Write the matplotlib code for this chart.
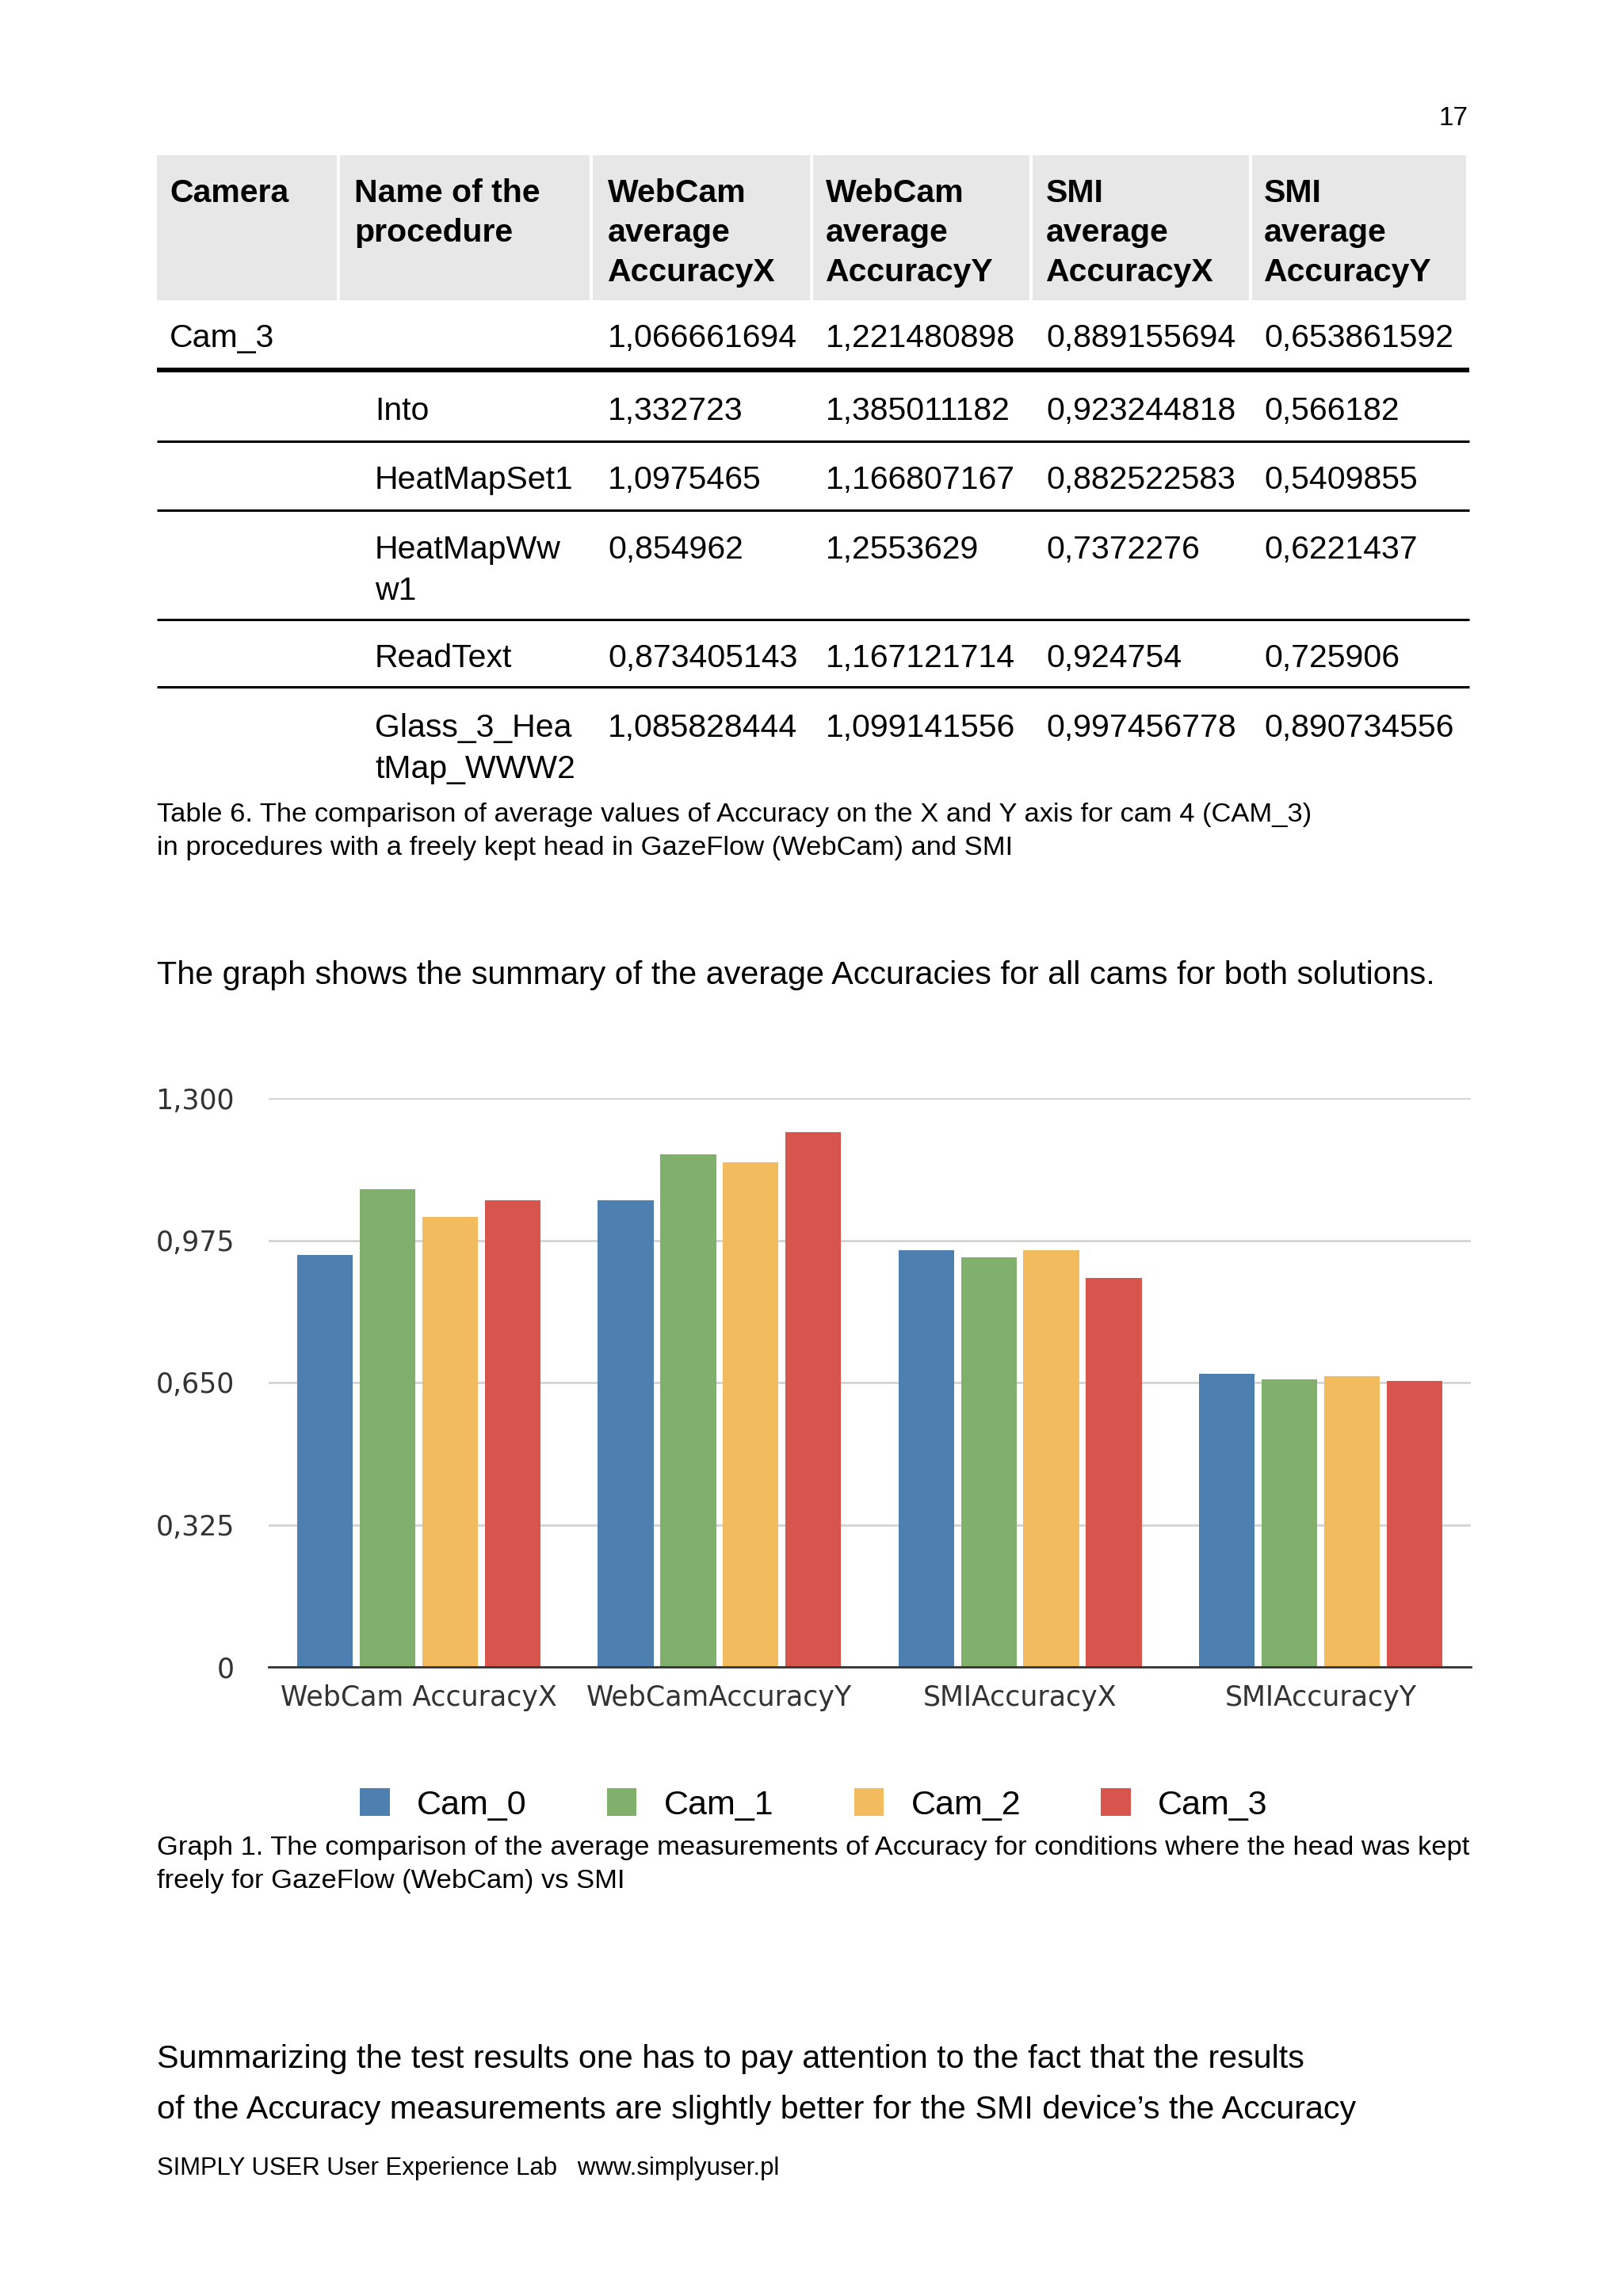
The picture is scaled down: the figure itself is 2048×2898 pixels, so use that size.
import numpy as np
import matplotlib
matplotlib.use("Agg")
import matplotlib.pyplot as plt
from matplotlib.patches import Rectangle

plt.rcParams['font.family'] = ['Liberation Sans', 'DejaVu Sans']

W, H = 2048, 2898

# --- table data ---
header = [["Camera"], ["Name of the", "procedure"],
          ["WebCam", "average", "AccuracyX"], ["WebCam", "average", "AccuracyY"],
          ["SMI", "average", "AccuracyX"], ["SMI", "average", "AccuracyY"]]
camera = "Cam_3"
cam3_avg = ["1,066661694", "1,221480898", "0,889155694", "0,653861592"]
procedures = [["Into"], ["HeatMapSet1"], ["HeatMapWw", "w1"], ["ReadText"],
              ["Glass_3_Hea", "tMap_WWW2"]]
webcam_x = ["1,332723", "1,0975465", "0,854962", "0,873405143", "1,085828444"]
webcam_y = ["1,385011182", "1,166807167", "1,2553629", "1,167121714", "1,099141556"]
smi_x = ["0,923244818", "0,882522583", "0,7372276", "0,924754", "0,997456778"]
smi_y = ["0,566182", "0,5409855", "0,6221437", "0,725906", "0,890734556"]

# --- chart data ---
measures = ["WebCam AccuracyX", "WebCamAccuracyY", "SMIAccuracyX", "SMIAccuracyY"]
cams = ["Cam_0", "Cam_1", "Cam_2", "Cam_3"]
cam_0 = [0.942, 1.066, 0.953, 0.670]
cam_1 = [1.091, 1.172, 0.936, 0.658]
cam_2 = [1.028, 1.153, 0.952, 0.664]
cam_3 = [1.0667, 1.2215, 0.8892, 0.6539]
yticks = [0, 0.325, 0.65, 0.975, 1.3]
ytick_labels = ["0", "0,325", "0,650", "0,975", "1,300"]
colors = ['#4d7fb0', '#80b06c', '#f1bb5e', '#d8554e']

fig = plt.figure(figsize=(W / 100, H / 100), dpi=100)
page = fig.add_axes([0, 0, 1, 1])
page.set_xlim(0, W)
page.set_ylim(H, 0)
page.axis('off')

dy = 4  # small nudge so text centres sit like the scan

# page number
page.text(1853, 145 + dy, "17", fontsize=24, ha='right', va='center')

# table header
col_left = [198, 429, 748, 1026, 1303, 1580]
col_right = col_left[1:] + [1854]
text_x = [214, 447, 767, 1042, 1320, 1595]
for i, lines in enumerate(header):
    page.add_patch(Rectangle((col_left[i], 196), col_right[i] - col_left[i] - 4, 183,
                             color='#e7e7e7', lw=0))
    for j, s in enumerate(lines):
        page.text(text_x[i], 240 + 50 * j + dy, s, fontsize=29.5, fontweight='bold',
                  va='center', ha='left')

# Cam_3 summary row
fs = 29.5
page.text(text_x[0], 423 + dy, camera, fontsize=fs, va='center')
for k, v in enumerate(cam3_avg):
    page.text(text_x[k + 2], 423 + dy, v, fontsize=fs, va='center')
page.plot([198, 1854], [467, 467], color='black', lw=4.3, solid_capstyle='butt')

# procedure rows
row_y = [515, 602, 690, 827, 915]
line_y = [557, 644, 782, 867]
for r, name in enumerate(procedures):
    for j, s in enumerate(name):
        page.text(473, row_y[r] + 52 * j + dy, s, fontsize=fs, va='center')
    vals = [webcam_x[r], webcam_y[r], smi_x[r], smi_y[r]]
    for k, v in enumerate(vals):
        page.text(text_x[k + 2], row_y[r] + dy, v, fontsize=fs, va='center')
for y in line_y:
    page.plot([198, 1854], [y, y], color='black', lw=2.2, solid_capstyle='butt')

# captions and body text
cap = 24.8
body = 29.7
page.text(198, 1024 + dy, "Table 6. The comparison of average values of Accuracy on the X and Y axis for cam 4 (CAM_3)",
          fontsize=cap, va='center')
page.text(198, 1066 + dy, "in procedures with a freely kept head in GazeFlow (WebCam) and SMI",
          fontsize=cap, va='center')
page.text(198, 1227 + dy, "The graph shows the summary of the average Accuracies for all cams for both solutions.",
          fontsize=body, va='center')
page.text(198, 2329 + dy, "Graph 1. The comparison of the average measurements of Accuracy for conditions where the head was kept",
          fontsize=cap, va='center')
page.text(198, 2370 + dy, "freely for GazeFlow (WebCam) vs SMI", fontsize=cap, va='center')
page.text(198, 2595 + dy, "Summarizing the test results one has to pay attention to the fact that the results",
          fontsize=body, va='center')
page.text(198, 2659 + dy, "of the Accuracy measurements are slightly better for the SMI device\u2019s the Accuracy",
          fontsize=body, va='center')
page.text(198, 2733 + dy, "SIMPLY USER User Experience Lab   www.simplyuser.pl", fontsize=22.4, va='center')

# bar chart
ax = fig.add_axes([339 / W, 1 - 2104 / H, 1517 / W, 718 / H])
x = np.arange(len(measures))
series = [cam_0, cam_1, cam_2, cam_3]
for i, vals in enumerate(series):
    ax.bar(x + (i - 1.5) * 0.208, vals, width=0.185, color=colors[i], label=cams[i], zorder=3)
ax.set_xlim(-0.5, 3.5)
ax.set_ylim(0, 1.3)
ax.set_yticks(yticks)
ax.set_yticklabels(ytick_labels, family='DejaVu Sans')
ax.set_xticks(x)
ax.set_xticklabels(measures, family='DejaVu Sans')
ax.yaxis.grid(True, color='#d3d3d3', lw=2)
ax.set_axisbelow(True)
for side in ['top', 'left', 'right']:
    ax.spines[side].set_visible(False)
ax.spines['bottom'].set_color('#333333')
ax.spines['bottom'].set_linewidth(2)
ax.spines['bottom'].set_zorder(4)
ax.tick_params(axis='y', length=0, pad=31, labelsize=25, labelcolor='#333333')
ax.tick_params(axis='x', length=0, pad=16, labelsize=25, labelcolor='#333333')
ax.patch.set_alpha(0)

fig.legend(loc='center', bbox_to_anchor=(1027 / W, 1 - 2278 / H), ncol=4, frameon=False,
           fontsize=31, handlelength=0.87, handleheight=0.87, handletextpad=0.8,
           columnspacing=2.35)

fig.savefig("out.png", dpi=100, facecolor='white')
